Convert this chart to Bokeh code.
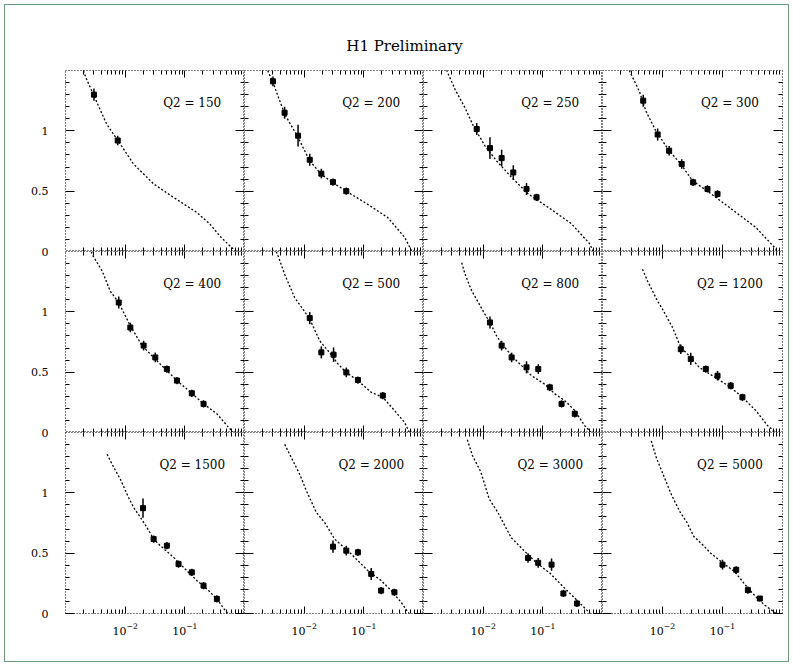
from bokeh.plotting import figure
from bokeh.layouts import gridplot, column, row
from bokeh.models import Range1d, FixedTicker, LogAxis, LinearAxis, Label
from bokeh.embed import file_html
from bokeh.resources import INLINE

# ---------------- data ----------------
q2_labels = ["150", "200", "250", "300", "400", "500",
             "800", "1200", "1500", "2000", "3000", "5000"]

y_tick_values = [0, 0.5, 1]
y_tick_labels = ["0", "0.5", "1"]
x_tick_values = [0.01, 0.1]

theory_x_150 = [0.0019, 0.0022, 0.0030, 0.0049, 0.0083, 0.0138, 0.030, 0.064, 0.157, 0.26, 0.40, 0.60, 0.74]
theory_y_150 = [1.53, 1.44, 1.29, 1.055, 0.89, 0.725, 0.56, 0.45, 0.325, 0.23, 0.12, 0.035, 0.0]
data_x_150 = [0.0030, 0.0075]
data_y_150 = [1.30, 0.92]
data_e_150 = [0.05, 0.04]

theory_x_200 = [0.0023, 0.0030, 0.0047, 0.0079, 0.0124, 0.0194, 0.0304, 0.0508, 0.117, 0.253, 0.48, 0.64]
theory_y_200 = [1.53, 1.40, 1.14, 0.945, 0.75, 0.64, 0.57, 0.50, 0.39, 0.28, 0.12, 0.0]
data_x_200 = [0.0030, 0.0047, 0.0079, 0.0124, 0.0194, 0.0304, 0.0508]
data_y_200 = [1.41, 1.15, 0.96, 0.76, 0.645, 0.575, 0.50]
data_e_200 = [0.04, 0.05, 0.09, 0.05, 0.04, 0.03, 0.03]

theory_x_250 = [0.0022, 0.00245, 0.00337, 0.00497, 0.00685, 0.0107, 0.0168, 0.030, 0.057, 0.123, 0.302, 0.61, 0.70]
theory_y_250 = [1.53, 1.50, 1.345, 1.19, 1.04, 0.876, 0.75, 0.614, 0.477, 0.366, 0.23, 0.064, 0.0]
data_x_250 = [0.0078, 0.013, 0.0204, 0.032, 0.0533, 0.0785]
data_y_250 = [1.015, 0.857, 0.774, 0.655, 0.518, 0.449]
data_e_250 = [0.05, 0.09, 0.07, 0.06, 0.05, 0.03]

theory_x_300 = [0.0026, 0.00279, 0.0041, 0.00527, 0.00773, 0.0129, 0.0202, 0.0316, 0.060, 0.129, 0.359, 0.774, 0.82]
theory_y_300 = [1.53, 1.50, 1.33, 1.165, 1.0, 0.835, 0.725, 0.587, 0.49, 0.366, 0.20, 0.022, 0.0]
data_x_300 = [0.00477, 0.0083, 0.0129, 0.0209, 0.0324, 0.0562, 0.0826]
data_y_300 = [1.25, 0.97, 0.835, 0.725, 0.573, 0.518, 0.477]
data_e_300 = [0.05, 0.05, 0.04, 0.04, 0.03, 0.03, 0.03]

theory_x_400 = [0.0026, 0.00279, 0.0041, 0.00565, 0.00778, 0.0122, 0.0192, 0.030, 0.047, 0.0738, 0.131, 0.206, 0.344, 0.538, 0.65]
theory_y_400 = [1.53, 1.477, 1.34, 1.17, 1.077, 0.884, 0.72, 0.622, 0.526, 0.43, 0.325, 0.237, 0.155, 0.044, 0.0]
data_x_400 = [0.0078, 0.0122, 0.0204, 0.032, 0.050, 0.0738, 0.131, 0.206]
data_y_400 = [1.077, 0.87, 0.72, 0.622, 0.526, 0.43, 0.325, 0.237]
data_e_400 = [0.05, 0.04, 0.04, 0.04, 0.03, 0.03, 0.03, 0.03]

theory_x_500 = [0.0032, 0.00366, 0.00472, 0.00693, 0.00958, 0.0124, 0.0182, 0.0251, 0.0369, 0.0508, 0.0796, 0.133, 0.208, 0.326, 0.48, 0.58]
theory_y_500 = [1.53, 1.463, 1.31, 1.118, 1.02, 0.94, 0.76, 0.678, 0.568, 0.498, 0.43, 0.333, 0.292, 0.182, 0.085, 0.0]
data_x_500 = [0.0124, 0.0194, 0.0311, 0.0508, 0.0796, 0.208]
data_y_500 = [0.948, 0.664, 0.645, 0.498, 0.435, 0.306]
data_e_500 = [0.05, 0.05, 0.06, 0.04, 0.03, 0.03]

theory_x_800 = [0.00437, 0.00497, 0.00643, 0.00832, 0.0107, 0.013, 0.0168, 0.0218, 0.030, 0.044, 0.0647, 0.108, 0.159, 0.233, 0.343, 0.50, 0.65]
theory_y_800 = [1.407, 1.312, 1.174, 1.077, 0.98, 0.912, 0.80, 0.72, 0.636, 0.554, 0.471, 0.40, 0.32, 0.264, 0.182, 0.058, 0.0]
data_x_800 = [0.013, 0.0204, 0.030, 0.0533, 0.0838, 0.131, 0.206, 0.343]
data_y_800 = [0.912, 0.72, 0.622, 0.54, 0.526, 0.374, 0.237, 0.155]
data_e_800 = [0.05, 0.04, 0.04, 0.05, 0.04, 0.03, 0.03, 0.03]

theory_x_1200 = [0.00464, 0.00562, 0.0068, 0.00825, 0.01, 0.0147, 0.0202, 0.0279, 0.0409, 0.0826, 0.137, 0.215, 0.359, 0.562, 0.77]
theory_y_1200 = [1.353, 1.256, 1.174, 1.09, 1.022, 0.87, 0.705, 0.636, 0.54, 0.444, 0.374, 0.292, 0.182, 0.058, 0.0]
data_x_1200 = [0.0202, 0.0296, 0.0527, 0.0826, 0.137, 0.215]
data_y_1200 = [0.69, 0.61, 0.526, 0.47, 0.388, 0.292]
data_e_1200 = [0.04, 0.05, 0.03, 0.04, 0.03, 0.03]

theory_x_1500 = [0.00498, 0.00604, 0.00831, 0.0114, 0.0139, 0.018, 0.0232, 0.030, 0.0388, 0.0649, 0.108, 0.159, 0.234, 0.344, 0.474, 0.53]
theory_y_1500 = [1.32, 1.237, 1.113, 0.961, 0.878, 0.796, 0.713, 0.617, 0.562, 0.465, 0.355, 0.273, 0.204, 0.121, 0.025, 0.0]
data_x_1500 = [0.0199, 0.030, 0.050, 0.0785, 0.131, 0.206, 0.344]
data_y_1500 = [0.873, 0.617, 0.562, 0.41, 0.341, 0.231, 0.121]
data_e_1500 = [0.08, 0.03, 0.03, 0.03, 0.03, 0.03, 0.03]

theory_x_2000 = [0.00472, 0.0061, 0.0084, 0.0109, 0.016, 0.022, 0.0324, 0.0615, 0.117, 0.195, 0.287, 0.422, 0.546, 0.58]
theory_y_2000 = [1.402, 1.292, 1.155, 1.017, 0.837, 0.755, 0.617, 0.493, 0.355, 0.273, 0.19, 0.093, 0.011, 0.0]
data_x_2000 = [0.0304, 0.0508, 0.0796, 0.133, 0.195, 0.326]
data_y_2000 = [0.554, 0.521, 0.507, 0.328, 0.19, 0.176]
data_e_2000 = [0.05, 0.04, 0.03, 0.05, 0.03, 0.03]

theory_x_3000 = [0.00543, 0.0066, 0.0091, 0.0126, 0.0175, 0.0294, 0.0464, 0.078, 0.131, 0.221, 0.373, 0.55, 0.62]
theory_y_3000 = [1.44, 1.31, 1.175, 0.95, 0.84, 0.63, 0.53, 0.42, 0.335, 0.22, 0.11, 0.026, 0.0]
data_x_3000 = [0.0565, 0.0835, 0.14, 0.221, 0.373]
data_y_3000 = [0.46, 0.42, 0.405, 0.166, 0.083]
data_e_3000 = [0.04, 0.04, 0.05, 0.03, 0.03]

theory_x_5000 = [0.0065, 0.0079, 0.0103, 0.0142, 0.0197, 0.0255, 0.0331, 0.049, 0.0634, 0.10, 0.158, 0.265, 0.39, 0.509, 0.78]
theory_y_5000 = [1.43, 1.29, 1.15, 0.98, 0.84, 0.755, 0.64, 0.559, 0.50, 0.42, 0.349, 0.21, 0.12, 0.069, 0.0]
data_x_5000 = [0.10, 0.169, 0.265, 0.419]
data_y_5000 = [0.405, 0.362, 0.194, 0.124]
data_e_5000 = [0.04, 0.03, 0.03, 0.02]

panels = [
    (theory_x_150, theory_y_150, data_x_150, data_y_150, data_e_150),
    (theory_x_200, theory_y_200, data_x_200, data_y_200, data_e_200),
    (theory_x_250, theory_y_250, data_x_250, data_y_250, data_e_250),
    (theory_x_300, theory_y_300, data_x_300, data_y_300, data_e_300),
    (theory_x_400, theory_y_400, data_x_400, data_y_400, data_e_400),
    (theory_x_500, theory_y_500, data_x_500, data_y_500, data_e_500),
    (theory_x_800, theory_y_800, data_x_800, data_y_800, data_e_800),
    (theory_x_1200, theory_y_1200, data_x_1200, data_y_1200, data_e_1200),
    (theory_x_1500, theory_y_1500, data_x_1500, data_y_1500, data_e_1500),
    (theory_x_2000, theory_y_2000, data_x_2000, data_y_2000, data_e_2000),
    (theory_x_3000, theory_y_3000, data_x_3000, data_y_3000, data_e_3000),
    (theory_x_5000, theory_y_5000, data_x_5000, data_y_5000, data_e_5000),
]

# ---------------- styling ----------------
FONT = "DejaVu Serif"
FRAME_W = [179, 179, 179, 180]
FRAME_H = 181
Y_SPAN = 1.5
LEFT_BORDER = 65
RIGHT_BORDER = 11
BOTTOM_BORDER = 53

x_minor = [k * 10.0 ** e for e in (-3, -2, -1) for k in range(2, 10)]
y_minor = [round(0.1 * i, 2) for i in range(1, 15) if i % 5 != 0]


def style_axis(ax, show_labels, is_x):
    ax.axis_line_color = None
    ax.major_tick_in = 7 if is_x else 9
    ax.major_tick_out = 0
    ax.minor_tick_in = 4
    ax.minor_tick_out = 0
    ax.major_tick_line_color = "black"
    ax.minor_tick_line_color = "black"
    ax.major_tick_line_width = 1
    ax.minor_tick_line_width = 1
    if is_x:
        ax.ticker = FixedTicker(ticks=x_tick_values, minor_ticks=x_minor)
    else:
        ax.ticker = FixedTicker(ticks=y_tick_values, minor_ticks=y_minor)
    if show_labels:
        ax.major_label_text_font = FONT
        ax.major_label_text_font_size = "11px"
        ax.major_label_text_color = "black"
        ax.major_label_standoff = 9
    else:
        ax.major_label_text_font_size = "0px"
        ax.major_label_text_alpha = 0
        ax.major_label_standoff = 0


rows = []
for r in range(3):
    prow = []
    for c in range(4):
        idx = r * 4 + c
        tx, ty, dx, dy, de = panels[idx]
        p = figure(
            x_axis_type="log", x_axis_location=None, y_axis_location=None,
            x_range=Range1d(1e-3, 1), y_range=Range1d(0, Y_SPAN),
            frame_width=FRAME_W[c], frame_height=FRAME_H,
            min_border_left=0,
            min_border_right=RIGHT_BORDER if c == 3 else 0,
            min_border_top=0,
            min_border_bottom=BOTTOM_BORDER if r == 2 else 0,
            toolbar_location=None, output_backend="svg",
            background_fill_color="white", border_fill_alpha=0,
        )
        p.xgrid.visible = False
        p.ygrid.visible = False
        p.outline_line_color = "black"
        p.outline_line_width = 1
        p.outline_line_dash = "1 2"

        bottom = LogAxis() if r == 2 else LinearAxis()
        style_axis(bottom, r == 2, True)
        p.add_layout(bottom, "below")
        left = LinearAxis()
        style_axis(left, False, False)
        p.add_layout(left, "left")
        top = LinearAxis()
        style_axis(top, False, True)
        p.add_layout(top, "above")
        right = LinearAxis()
        style_axis(right, False, False)
        p.add_layout(right, "right")

        p.line(tx, ty, line_color="black", line_width=1.3, line_dash="2 2")
        lo = [y - e for y, e in zip(dy, de)]
        hi = [y + e for y, e in zip(dy, de)]
        p.segment(x0=dx, y0=lo, x1=dx, y1=hi, line_color="black", line_width=1.5)
        p.scatter(dx, dy, marker="square", size=5, fill_color="black", line_color="black")

        p.add_layout(Label(x=0.133, y=1.227, text="Q2 = " + q2_labels[idx],
                           text_align="center", text_baseline="middle",
                           text_font=FONT, text_font_size="12px", text_color="black"))
        prow.append(p)
    rows.append(prow)

grid = gridplot(rows, toolbar_location=None)

# shared y tick labels for the three rows, in one tall strip so that
# the "0" labels on the row boundaries are not clipped
label_ticks = []
label_texts = {}
for r in range(3):
    for v, s in zip(y_tick_values, y_tick_labels):
        g = round(v + Y_SPAN * (2 - r), 3)
        label_ticks.append(g)
        label_texts[g] = s

label_fig = figure(frame_width=1, frame_height=3 * FRAME_H,
                   min_border_left=LEFT_BORDER - 1, min_border_right=0,
                   min_border_top=0, min_border_bottom=BOTTOM_BORDER,
                   x_range=Range1d(0, 1), y_range=Range1d(0, 3 * Y_SPAN),
                   x_axis_location=None, y_axis_location=None,
                   toolbar_location=None, output_backend="svg",
                   border_fill_alpha=0, background_fill_alpha=0)
label_fig.outline_line_color = None
label_fig.xgrid.visible = False
label_fig.ygrid.visible = False
lab_axis = LinearAxis(ticker=FixedTicker(ticks=label_ticks, minor_ticks=[]),
                      major_label_overrides=label_texts)
lab_axis.axis_line_color = None
lab_axis.major_tick_in = 0
lab_axis.major_tick_out = 0
lab_axis.minor_tick_in = 0
lab_axis.minor_tick_out = 0
lab_axis.major_label_text_font = FONT
lab_axis.major_label_text_font_size = "11px"
lab_axis.major_label_text_color = "black"
lab_axis.major_label_standoff = 16
label_fig.add_layout(lab_axis, "left")

title_fig = figure(width=793, height=70, x_range=Range1d(0, 1), y_range=Range1d(0, 1),
                   min_border=0, toolbar_location=None, output_backend="svg",
                   x_axis_location=None, y_axis_location=None,
                   border_fill_alpha=0, background_fill_alpha=0)
title_fig.outline_line_color = None
title_fig.xgrid.visible = False
title_fig.ygrid.visible = False
title_fig.add_layout(Label(x=404, y=25, x_units="screen", y_units="screen",
                           text="H1 Preliminary", text_align="center", text_baseline="middle",
                           text_font=FONT, text_font_size="15px", text_color="black"))

layout = column(title_fig, row(label_fig, grid),
                styles={"outline": "1px solid #6e9a7c", "outline-offset": "-5px"})

open("out.html", "w").write(file_html(layout, INLINE))
